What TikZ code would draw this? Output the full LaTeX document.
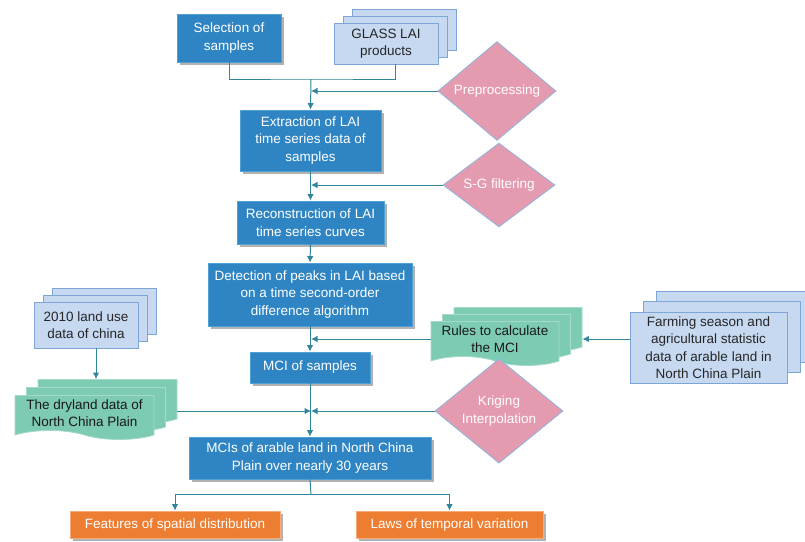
\documentclass[tikz,border=0pt]{standalone}
\usepackage{fontspec}
\setmainfont{Liberation Sans}
\usetikzlibrary{shapes.geometric,shapes.symbols,shadows,arrows.meta}
\definecolor{boxblue}{RGB}{47,133,195}
\definecolor{boxline}{RGB}{80,160,214}
\definecolor{datafill}{RGB}{198,217,241}
\definecolor{dataline}{RGB}{125,166,214}
\definecolor{diafill}{RGB}{229,155,175}
\definecolor{dialine}{RGB}{140,180,222}
\definecolor{docfill}{RGB}{126,203,180}
\definecolor{docline}{RGB}{165,218,202}
\definecolor{outfill}{RGB}{237,125,49}
\definecolor{outline}{RGB}{246,172,122}
\definecolor{linkcol}{RGB}{49,133,155}

\begin{document}
\begin{tikzpicture}[x=1pt, y=-1pt, >={Latex[length=6.5pt,width=6.5pt]},
    font=\fontsize{13.5}{17.5}\selectfont,
    every node/.style={align=center, inner sep=2pt, line width=0.8pt},
    shade/.style={drop shadow={shadow xshift=3pt, shadow yshift=-3pt, fill=black!30, opacity=1}},
    proc/.style={rectangle, shade, fill=boxblue, draw=boxline, text=white},
    data/.style={rectangle, fill=datafill, draw=dataline, text=black!85},
    cond/.style={diamond, fill=diafill, draw=dialine, text=white, inner sep=0pt},
    doc/.style={tape, tape bend top=none, tape bend bottom=out and in, tape bend height=9pt,
        fill=docfill, draw=docline, text=black!90},
    result/.style={rectangle, shade, fill=outfill, draw=outline, text=white},
    link/.style={draw=linkcol, line width=1pt}
  ]
  \useasboundingbox (0,0) rectangle (805,541);

  \node[proc, minimum width=104pt, minimum height=48pt] (sel) at (229,38) {Selection of\\samples};
  \node[data, double copy shadow={shadow xshift=9pt, shadow yshift=7pt}, minimum width=104pt, minimum height=41pt] (glass) at (386,43.5) {GLASS LAI\\products};
  \node[cond, minimum width=118pt, minimum height=88pt] (pre) at (497,91) {Preprocessing};
  \node[proc, minimum width=141pt, minimum height=61pt] (extr) at (310.5,140.5) {Extraction of LAI\\time series data of\\samples};
  \node[cond, minimum width=112pt, minimum height=68pt] (sg) at (499,185) {S-G filtering};
  \node[proc, minimum width=147pt, minimum height=43pt] (recon) at (310.5,222.5) {Reconstruction of LAI\\time series curves};
  \node[proc, minimum width=204pt, minimum height=63pt] (detect) at (310,294.5) {Detection of peaks in LAI based\\on a time second-order\\difference algorithm};
  \node[doc, double copy shadow={shadow xshift=11.5pt, shadow yshift=7pt}, minimum width=128pt, minimum height=44pt] (rules) at (495,339) {Rules to calculate\\the MCI};
  \node[data, double copy shadow={shadow xshift=13pt, shadow yshift=10.5pt}, minimum width=157pt, minimum height=71pt] (farm) at (708.5,347.5) {Farming season and\\agricultural statistic\\data of arable land in\\North China Plain};
  \node[proc, minimum width=120pt, minimum height=31pt] (mci) at (310,367.5) {MCI of samples};
  \node[data, double copy shadow={shadow xshift=9pt, shadow yshift=7pt}, minimum width=104pt, minimum height=46pt] (land) at (86,325) {2010 land use\\data of china};
  \node[doc, double copy shadow={shadow xshift=11.5pt, shadow yshift=8pt}, minimum width=139pt, minimum height=44pt] (dry) at (84.5,413) {The dryland data of\\North China Plain};
  \node[cond, minimum width=128pt, minimum height=86pt] (kri) at (499,411) {Kriging\\Interpolation};
  \node[proc, minimum width=242pt, minimum height=42pt] (mcis) at (310,458) {MCIs of arable land in North China\\Plain over nearly 30 years};
  \node[result, minimum width=210pt, minimum height=27pt] (feat) at (175,524.5) {Features of spatial distribution};
  \node[result, minimum width=187pt, minimum height=27pt] (laws) at (449.5,524.5) {Laws of temporal variation};

  \coordinate (j1) at (311,79);
  \coordinate (j2) at (311,411);
  \coordinate (j3) at (311,494);
  \coordinate (dryr) at ([xshift=23pt]dry.east);
  \coordinate (rulesr) at ([xshift=23pt]rules.east);

  \draw[link] (sel.south) |- (j1) -| ([xshift=9pt]glass.south);
  \draw[link,->] (j1) -- (extr.north);
  \draw[link,->] (pre.west) -- (pre.west -| j1);
  \draw[link,->] (extr.south) -- (recon.north);
  \draw[link,->] (sg.west) -- (sg.west -| j1);
  \draw[link,->] (recon.south) -- (detect.north);
  \draw[link,->] (detect.south) -- (mci.north);
  \draw[link,->] (rules.west) -- (rules.west -| j1);
  \draw[link,->] (farm.west |- rulesr) -- (rulesr);
  \draw[link,->] ([xshift=10pt]land.south) -- ([xshift=11.5pt, yshift=16pt]dry.north);
  \draw[link,->] (mci.south) -- (mcis.north);
  \draw[link,->] (dryr |- j2) -- (j2);
  \draw[link,->] (kri.west) -- (j2);
  \draw[link] (mcis.south) -- (j3);
  \draw[link,->] (j3) -| (feat.north);
  \draw[link,->] (j3) -| (laws.north);
\end{tikzpicture}
\end{document}
